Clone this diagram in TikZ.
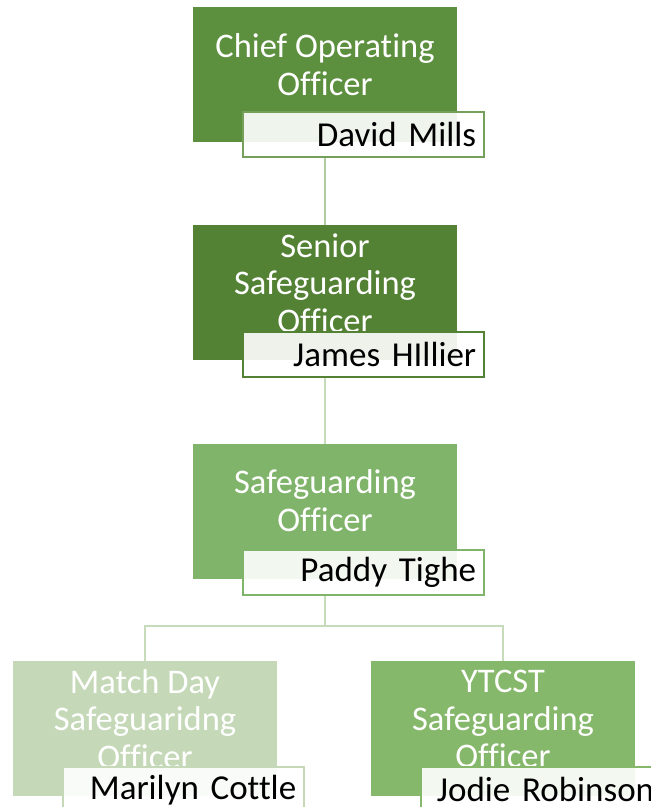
\documentclass[tikz,border=0pt]{standalone}
\usepackage{fontspec}
\setmainfont{Carlito}[Ligatures=NoCommon]
\usetikzlibrary{positioning}

\definecolor{coogreen}{HTML}{5C8F3E}
\definecolor{ssogreen}{HTML}{548235}
\definecolor{sogreen}{HTML}{80B46A}
\definecolor{mdgreen}{HTML}{C5D9B8}
\definecolor{ytgreen}{HTML}{86B86B}
\definecolor{linkgreen}{HTML}{C5DBBA}

\tikzset{
  rolebox/.style={fill=#1, minimum width=264pt, minimum height=135pt, inner sep=0pt},
  roletitle/.style={text=white, align=center, font=\fontsize{34.5}{37.5}\selectfont},
  namebox/.style={draw=#1, line width=2pt, fill=white, fill opacity=0.9, text opacity=1,
    minimum width=241pt, minimum height=45pt, text width=225pt, inner xsep=8pt,
    align=right, anchor=south east, font=\fontsize{35}{38}\selectfont},
  link/.style={draw=linkgreen, line width=2.5pt}
}

\begin{document}
\begin{tikzpicture}[x=1pt,y=-1pt]
\useasboundingbox (0,0) rectangle (651,807);
\clip (0,0) rectangle (651,807);

% boxes
\node[rolebox=coogreen] (coo) at (325,74.5) {};
\node[rolebox=ssogreen, below=83pt of coo] (sso) {};
\node[rolebox=sogreen, below=83pt of sso] (so) {};
\node[rolebox=mdgreen, below=82pt of so, xshift=-180pt] (md) {};
\node[rolebox=ytgreen, below=82pt of so, xshift=178pt] (yt) {};

% titles
\node[roletitle] (cootitle) at ([yshift=-58pt]coo.north) {Chief Operating\\Officer};
\node[roletitle] (ssotitle) at ([yshift=-58pt]sso.north) {Senior\\Safeguarding\\Officer};
\node[roletitle] (sotitle) at ([yshift=-57pt]so.north) {Safeguarding\\Officer};
\node[roletitle] (mdtitle) at ([yshift=-58pt]md.north) {Match Day\\Safeguaridng\\Officer};
\node[roletitle] (yttitle) at ([yshift=-58pt]yt.north) {YTCST\\Safeguarding\\Officer};

% names
\node[namebox=coogreen!85!white] (cooname) at ([shift={(28pt,-16pt)}]coo.south east) {David Mills};
\node[namebox=ssogreen] (ssoname) at ([shift={(28pt,-17pt)}]sso.south east) {James HIllier};
\node[namebox=sogreen] (soname) at ([shift={(28pt,-17pt)}]so.south east) {Paddy Tighe};
\node[namebox=mdgreen] (mdname) at ([shift={(28pt,-17pt)}]md.south east) {Marilyn Cottle};
\node[namebox=ytgreen] (ytname) at ([shift={(28pt,-17pt)}]yt.south east) {Jodie Robinson};

% connectors
\coordinate (fork) at (325,626);
\draw[link, draw=linkgreen!80!coogreen] (cooname.south -| coo.south) -- (sso.north);
\draw[link] (ssoname.south -| sso.south) -- (so.north);
\draw[link] (soname.south -| so.south) -- (fork);
\draw[link] (md.north) |- (fork) -| (yt.north);
\end{tikzpicture}
\end{document}
